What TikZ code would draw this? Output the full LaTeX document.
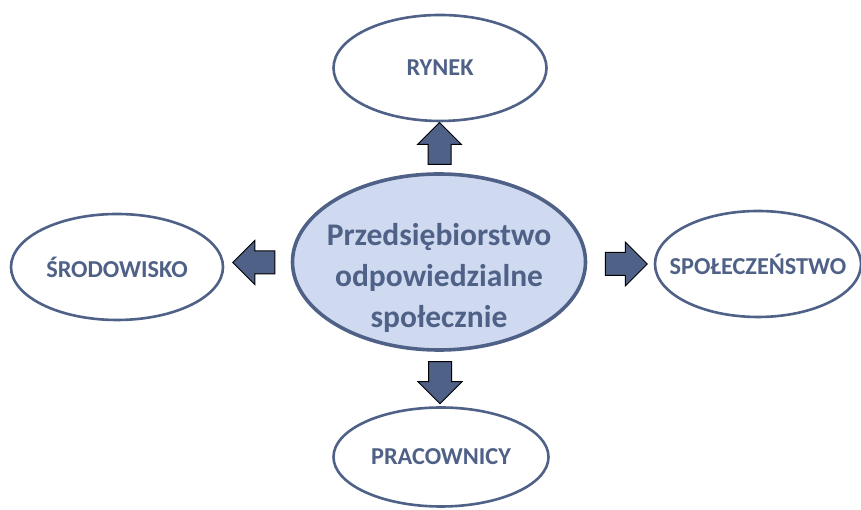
\documentclass[tikz,border=0pt]{standalone}
\usepackage{fontspec}
\setmainfont{Carlito}
\usepackage{xcolor}
\usetikzlibrary{shapes.geometric, shapes.arrows, positioning, calc}

\definecolor{frameblue}{HTML}{4F6187}
\definecolor{fillblue}{HTML}{CFDAF0}

\begin{document}
\begin{tikzpicture}[
    x=1pt, y=1pt,
    area/.style={ellipse, draw=frameblue, line width=2.6pt, fill=white, text=frameblue, font=\bfseries\fontsize{24.3}{28}\selectfont, inner xsep=-40pt, inner ysep=0pt},
    core/.style={ellipse, draw=frameblue, line width=3.6pt, fill=fillblue, text=frameblue, font=\bfseries\fontsize{31.5}{41}\selectfont, align=center, inner xsep=-60pt, inner ysep=-50pt, minimum width=293pt, minimum height=176pt},
    blockarrow/.style={single arrow, draw=black, line width=1pt, fill=frameblue, inner sep=11pt, minimum height=42pt, minimum width=42pt, single arrow head extend=10.5pt, single arrow head indent=0pt}
]
\useasboundingbox (0,0) rectangle (861,510);

% central node
\node[core] (firm) at (439,248) {\rule{0pt}{54pt}Przedsiębiorstwo\\odpowiedzialne\\społecznie};

% surrounding areas
\node[area, minimum width=213pt, minimum height=106pt] (rynek) at (440,442) {RYNEK};
\node[area, minimum width=212pt, minimum height=106pt] (srodowisko) at (117,243) {ŚRODOWISKO};
\node[area, minimum width=206pt, minimum height=106pt] (spoleczenstwo) at (758,246) {SPOŁECZEŃSTWO};
\node[area, minimum width=215pt, minimum height=99pt] (pracownicy) at (441,53) {PRACOWNICY};

% block arrows
\node[blockarrow, shape border rotate=90] (toRynek) at ($(firm.north)!0.5!(rynek.south)+(0,-2)$) {};
\node[blockarrow, shape border rotate=270] (toPracownicy) at ($(firm.south)!0.5!(pracownicy.north)+(0,2)$) {};
\node[blockarrow, shape border rotate=180] (toSrodowisko) at ($(firm.west)!0.5!(srodowisko.east)+(2,2)$) {};
\node[blockarrow] (toSpoleczenstwo) at ($(firm.east)!0.5!(spoleczenstwo.west)+(0,-1)$) {};

\end{tikzpicture}
\end{document}
